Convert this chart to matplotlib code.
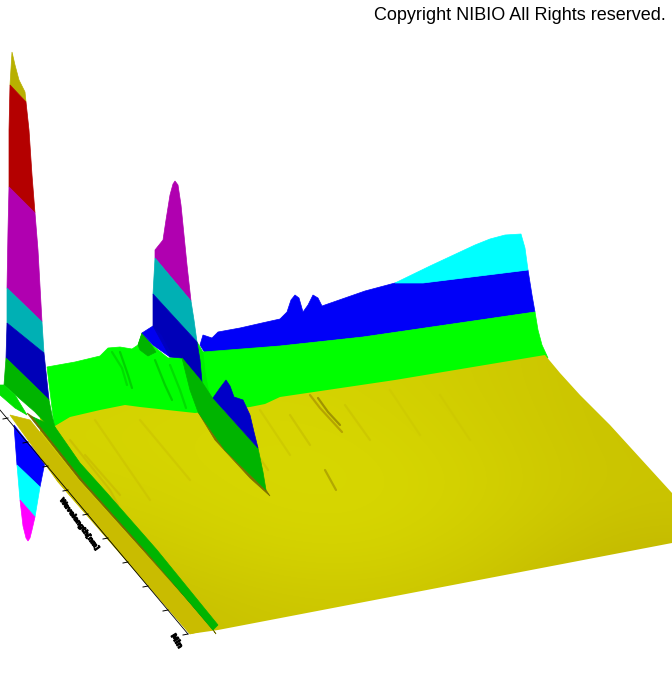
import numpy as np
import matplotlib
matplotlib.use("Agg")
import matplotlib.pyplot as plt
import matplotlib.patheffects as pe
from matplotlib.colors import LinearSegmentedColormap
from matplotlib.patches import Polygon

# Outlines, in image pixel units
wall_green = [(47,367),(75,362),(100,356),(108,348),(120,347),(132,349),(138,345),(142,333),(152,345),(168,358),(182,357),(195,370),(203,352),(280,346),(363,337),(535,312),(538,330),(542,345),(548,358),(400,388),(280,404),(200,422),(55,432)]
wall_blue = [(203,335),(212,338),(218,332),(240,328),(262,323),(280,319),(287,312),(291,300),(295,295),(299,298),(303,312),(308,305),(313,295),(318,298),(322,306),(365,291),(395,283),(423,283),(528,270),(532,295),(535,312),(363,337),(280,346),(205,353),(200,345)]
wall_cyan = [(395,283),(430,266),(475,245),(490,239),(505,235),(521,234),(525,248),(528,270),(423,283)]
floor = [(55,426),(70,417),(100,410),(125,405),(140,407),(195,413),(250,407),(265,404),(280,397),(395,380),(545,355),(560,373),(580,395),(610,425),(672,493),(672,543),(218,630),(190,634),(58,482),(15,424),(35,412)]

spike1_yellow = [(12,52),(15,65),(19,80),(25,92),(26,102),(10,85)]
spike1_red = [(10,85),(26,102),(29,130),(32,175),(35,213),(9,187),(9,130)]
spike1_purple = [(9,187),(35,213),(38,250),(42,322),(7,288),(8,230)]
spike1_teal = [(7,288),(42,322),(44,353),(7,323)]
spike1_blue = [(7,323),(44,353),(49,400),(6,358)]
spike1_green = [(6,358),(49,400),(52,415),(56,432),(66,445),(35,412),(4,385)]
front_lightgreen = [(0,385),(4,385),(15,395),(27,415),(15,408),(0,395)]
under_blue = [(14,425),(30,445),(45,462),(40,487),(17,465)]
under_cyan = [(17,465),(40,487),(35,517),(20,500)]
under_magenta = [(20,500),(35,517),(32,530),(30,538),(28,541),(26,538),(23,526)]

spike2_purple = [(155,258),(155,250),(163,240),(166,220),(170,195),(173,184),(175,181),(178,185),(181,205),(184,235),(187,265),(191,301)]
spike2_teal = [(155,258),(191,301),(194,320),(197,342),(153,294)]
spike2_blue = [(153,294),(197,342),(200,360),(202,382),(182,358),(170,350),(162,335),(153,326)]
hill_brightblue = [(142,333),(153,326),(162,335),(172,352),(170,357),(153,345)]
hill_darkblue = [(153,326),(162,335),(182,358),(170,357)]
hill_darkgreen = [(142,333),(150,343),(156,352),(148,356),(140,350),(138,345)]
ridge2_green = [(182,358),(202,382),(213,399),(258,448),(263,472),(266,490),(225,450),(198,412),(190,390)]
ridge2_lump = [(213,398),(220,388),(226,380),(230,386),(234,397),(243,400),(250,415),(254,432),(258,448)]
ridge2_edge = [(198,412),(225,450),(266,490),(270,496),(250,478),(215,440)]
spike2_neck = [(197,342),(203,352),(205,372),(210,398),(213,399),(202,382)]

ridge1_green = [(33,417),(55,427),(80,463),(107,493),(157,550),(218,625),(213,630),(147,552),(83,480)]
ridge1_edge = [(27,413),(33,417),(83,480),(147,552),(213,630),(216,634),(210,625),(143,550),(80,480)]
left_strip = [(10,415),(30,420),(80,482),(143,552),(214,628),(190,634),(58,482)]

axis_x = [0, 188]
axis_y = [410, 634]
tick_x = [8, 28, 48, 68, 88, 108, 128, 148, 168, 188]
tick_y = [418, 442, 466, 490, 514, 538, 562, 586, 610, 634]

streaks = [
    [(310,395),(320,408),(342,432)], [(318,398),(328,412),(340,425)],
    [(325,470),(336,490)], [(228,412),(268,470)], [(215,410),(240,440)],
    [(120,352),(128,375),(132,388)], [(112,352),(122,368),(127,385)],
    [(155,360),(165,385),(172,400)], [(170,365),(180,390),(186,408)],
    [(290,415),(310,445)], [(345,405),(370,440)], [(260,410),(290,455)],
    [(440,395),(470,440)], [(390,390),(420,435)],
    [(70,440),(110,490),(118,505)], [(85,455),(120,495)],
    [(140,420),(190,480)], [(95,420),(150,500)],
]
streak_colors = ["#a89000","#8a7a00","#9a8a00","#c0b400","#b8a800","#00c000","#00d000","#00c000","#00d000","#bcb000","#c2b800","#c4bc00","#c8c000","#c8c000","#c4b400","#c4b400","#c6ba00","#c6ba00"]
streak_alpha = [0.7,0.7,0.6,0.45,0.5,0.7,0.7,0.7,0.7,0.4,0.4,0.4,0.3,0.3,0.5,0.5,0.4,0.4]
floor_shade = [[0.82,0.88,0.85,0.70,0.50],
               [0.90,0.97,0.95,0.78,0.50],
               [0.80,0.95,1.00,0.85,0.55],
               [0.55,0.80,0.90,0.70,0.30],
               [0.30,0.50,0.60,0.45,0.10]]

title = "Copyright NIBIO All Rights reserved."
xlabel = "Wavelength[nm]"
ylabel = "Min"

fig = plt.figure(figsize=(6.72, 6.73), dpi=100)
ax = fig.add_axes([0, 0, 1, 1])
ax.set_xlim(0, 672)
ax.set_ylim(673, 0)
ax.axis("off")

def poly(pts, color, z):
    ax.add_patch(Polygon(pts, closed=True, fc=color, ec=color, lw=0.5, zorder=z))

poly(wall_blue, "#0000f8", 1)
poly(wall_cyan, "#00ffff", 1)
poly(wall_green, "#00ff00", 2)

# under-floor spike comes first, floor hides its top
poly(under_blue, "#0000ff", 1)
poly(under_cyan, "#00ffff", 1)
poly(under_magenta, "#ff00ff", 1)

cmap = LinearSegmentedColormap.from_list("floor", ["#bcae00", "#d8d800"])
im = ax.imshow(floor_shade, cmap=cmap, vmin=0, vmax=1, extent=(40, 672, 640, 350),
               interpolation="bicubic", aspect="auto", zorder=3)
clip = Polygon(floor, closed=True, transform=ax.transData)
im.set_clip_path(clip)
ax.set_xlim(0, 672)
ax.set_ylim(673, 0)

for s, c, a in zip(streaks, streak_colors, streak_alpha):
    p = np.array(s)
    ax.plot(p[:, 0], p[:, 1], color=c, lw=1.6, alpha=a, zorder=3.5, solid_capstyle="round")

poly(left_strip, "#c9bc00", 4)
poly(ridge1_edge, "#6e6a00", 5)
poly(ridge1_green, "#00b400", 5)

poly(spike1_yellow, "#b8b000", 6)
poly(spike1_red, "#b40000", 6)
poly(spike1_purple, "#b000b0", 6)
poly(spike1_teal, "#00b0b4", 6)
poly(spike1_blue, "#0000b8", 6)
poly(spike1_green, "#00b400", 6)
poly(front_lightgreen, "#00e000", 6)

poly(spike2_neck, "#00f000", 6)
poly(hill_darkgreen, "#00b400", 6)
poly(hill_brightblue, "#0000f0", 6)
poly(hill_darkblue, "#0000c0", 6)
poly(spike2_purple, "#b000b0", 7)
poly(spike2_teal, "#00b0b4", 7)
poly(spike2_blue, "#0000b8", 7)
poly(ridge2_edge, "#7a7000", 6.5)
poly(ridge2_green, "#00b400", 7)
poly(ridge2_lump, "#0000c8", 7)

ax.plot(axis_x, axis_y, color="black", lw=0.6, zorder=8)
for x, y in zip(tick_x, tick_y):
    ax.plot([x, x - 5], [y, y + 1], color="black", lw=0.7, zorder=8)

ax.text(666, 15, title, ha="right", va="center", fontsize=12.95, family="Liberation Sans", color="black")
blob = [pe.withStroke(linewidth=0.8, foreground="black")]
ax.text(79, 524, xlabel, rotation=-54, rotation_mode="anchor", ha="center", va="center",
        fontsize=4.8, fontweight="bold", color="black", path_effects=blob)
ax.text(177, 641, ylabel, rotation=-58, rotation_mode="anchor", ha="center", va="center",
        fontsize=5.5, fontweight="bold", color="black", path_effects=blob)

fig.savefig("out.png", dpi=100)
